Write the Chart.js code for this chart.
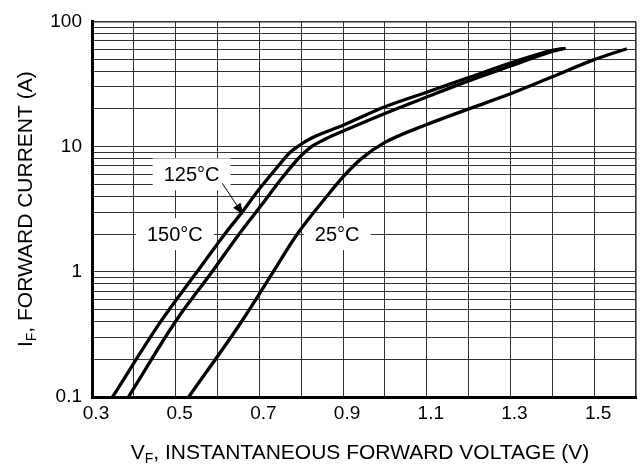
<!DOCTYPE html>
<html>
<head>
<meta charset="utf-8">
<script src="https://cdn.jsdelivr.net/npm/chart.js@4.4.1/dist/chart.umd.min.js"></script>
<style>
  html, body { margin: 0; padding: 0; background: #fff; }
</style>
</head>
<body>
<canvas id="chart" width="641" height="469"></canvas>
<script>
// 三条正向特性曲线
const vf150 = [0.349, 0.464, 0.551, 0.622, 0.658, 0.698, 0.745, 0.772, 0.797, 0.825, 0.900, 1.000, 1.100, 1.200, 1.300, 1.400, 1.432];
const if150 = [0.1, 0.40, 1.0, 2.1, 2.97, 4.5, 7.0, 8.9, 10.3, 11.7, 14.8, 20.8, 27.2, 35.6, 46.5, 58.8, 61];

const vf125 = [0.387, 0.500, 0.587, 0.650, 0.706, 0.753, 0.797, 0.8245, 0.860, 0.900, 1.000, 1.100, 1.200, 1.300, 1.400, 1.425];
const if125 = [0.1, 0.403, 1.0, 1.97, 3.45, 5.56, 8.3, 10.0, 11.6, 13.3, 18.4, 24.9, 33.5, 44.0, 57.5, 60.5];

const vf25 = [0.531, 0.658, 0.733, 0.789, 0.864, 0.900, 0.943, 1.000, 1.100, 1.200, 1.300, 1.400, 1.500, 1.578];
const if25 = [0.1, 0.403, 1.0, 1.97, 4.12, 5.73, 7.98, 10.8, 15.0, 20.0, 26.4, 36.1, 49.5, 60.5];

// 坐标轴网格与刻度标签
const xGrid = [0.3, 0.4, 0.5, 0.6, 0.7, 0.8, 0.9, 1.0, 1.1, 1.2, 1.3, 1.4, 1.5, 1.6];
const xLabels = [0.3, 0.5, 0.7, 0.9, 1.1, 1.3, 1.5];
const yGrid = [0.1, 0.2, 0.3, 0.4, 0.5, 0.6, 0.7, 0.8, 0.9,
               1, 2, 3, 4, 5, 6, 7, 8, 9,
               10, 20, 30, 40, 50, 60, 70, 80, 90, 100];
const yLabels = [0.1, 1, 10, 100];

// 温度标注（数据坐标）
const tempLabels = [
    { text: '125°C', v: 0.538, i: 6.0 },
    { text: '150°C', v: 0.498, i: 2.0 },
    { text: '25°C', v: 0.886, i: 2.0 }
];
const arrowFrom = { v: 0.611, i: 5.1 };
const arrowTo = { v: 0.658, i: 2.97 };

const FONT = '"Liberation Sans", Arial, Helvetica, sans-serif';

function toPoints(xs, ys) {
    return xs.map((v, k) => ({ x: v, y: ys[k] }));
}

function sameVal(a, b) {
    return Math.abs(a - b) < 1e-6;
}

// 带下标的文字
function drawSubText(ctx, parts, cx, cy, size) {
    let total = 0;
    parts.forEach(p => {
        ctx.font = (p.sub ? Math.round(size * 0.65) : size) + 'px ' + FONT;
        p.w = ctx.measureText(p.t).width;
        total += p.w;
    });
    let x = cx - total / 2;
    parts.forEach(p => {
        ctx.font = (p.sub ? Math.round(size * 0.65) : size) + 'px ' + FONT;
        ctx.fillText(p.t, x, p.sub ? cy + size * 0.3 : cy);
        x += p.w;
    });
}

const annotatePlugin = {
    id: 'annotate',
    // 温度标签：白底遮住网格，曲线画在上面
    beforeDatasetsDraw(chart) {
        const { ctx } = chart;
        const xs = chart.scales.x, ys = chart.scales.y;
        ctx.save();
        ctx.font = '20px ' + FONT;
        ctx.textAlign = 'center';
        ctx.textBaseline = 'middle';
        tempLabels.forEach(l => {
            const px = xs.getPixelForValue(l.v);
            const py = ys.getPixelForValue(l.i);
            const w = ctx.measureText(l.text).width;
            ctx.fillStyle = '#fff';
            ctx.fillRect(px - w / 2 - 11, py - 16, w + 22, 32);
            ctx.fillStyle = '#000';
            ctx.fillText(l.text, px, py + 1);
        });
        ctx.restore();
    },
    afterDatasetsDraw(chart) {
        const { ctx } = chart;
        const xs = chart.scales.x, ys = chart.scales.y;
        ctx.save();

        // 箭头
        const x0 = xs.getPixelForValue(arrowFrom.v), y0 = ys.getPixelForValue(arrowFrom.i);
        const x1 = xs.getPixelForValue(arrowTo.v), y1 = ys.getPixelForValue(arrowTo.i);
        const ang = Math.atan2(y1 - y0, x1 - x0);
        ctx.strokeStyle = '#000';
        ctx.lineWidth = 1;
        ctx.beginPath();
        ctx.moveTo(x0, y0);
        ctx.lineTo(x1, y1);
        ctx.stroke();
        ctx.fillStyle = '#000';
        ctx.beginPath();
        ctx.moveTo(x1 + Math.cos(ang) * 3, y1 + Math.sin(ang) * 3);
        ctx.lineTo(x1 - Math.cos(ang) * 9 + Math.sin(ang) * 4.5, y1 - Math.sin(ang) * 9 - Math.cos(ang) * 4.5);
        ctx.lineTo(x1 - Math.cos(ang) * 9 - Math.sin(ang) * 4.5, y1 - Math.sin(ang) * 9 + Math.cos(ang) * 4.5);
        ctx.closePath();
        ctx.fill();

        // 轴标题
        ctx.textAlign = 'left';
        ctx.textBaseline = 'middle';
        drawSubText(ctx, [
            { t: 'V' }, { t: 'F', sub: true }, { t: ', INSTANTANEOUS FORWARD VOLTAGE (V)' }
        ], (chart.chartArea.left + chart.chartArea.right) / 2 - 4, 453, 21);

        ctx.translate(26, (chart.chartArea.top + chart.chartArea.bottom) / 2);
        ctx.rotate(-Math.PI / 2);
        drawSubText(ctx, [
            { t: 'I' }, { t: 'F', sub: true }, { t: ', FORWARD CURRENT (A)' }
        ], 0, 0, 21);

        ctx.restore();
    }
};

const ctx = document.getElementById('chart').getContext('2d');
const lineStyle = {
    borderColor: '#000',
    borderWidth: 3.3,
    pointRadius: 0,
    fill: false,
    cubicInterpolationMode: 'monotone',
    borderCapStyle: 'butt'
};

new Chart(ctx, {
    type: 'line',
    data: {
        datasets: [
            Object.assign({ label: '150°C', data: toPoints(vf150, if150) }, lineStyle),
            Object.assign({ label: '125°C', data: toPoints(vf125, if125) }, lineStyle),
            Object.assign({ label: '25°C', data: toPoints(vf25, if25) }, lineStyle)
        ]
    },
    options: {
        responsive: false,
        animation: false,
        devicePixelRatio: 1,
        layout: { padding: { top: 12, right: 1, left: 0, bottom: 0 } },
        plugins: {
            legend: { display: false },
            tooltip: { enabled: false }
        },
        scales: {
            x: {
                type: 'linear',
                min: 0.3,
                max: 1.6,
                afterBuildTicks: s => { s.ticks = xGrid.map(v => ({ value: v })); },
                afterFit: s => { s.height = 72; },
                ticks: {
                    autoSkip: false,
                    maxRotation: 0,
                    padding: 5,
                    labelOffset: 4,
                    color: '#000',
                    font: { family: FONT, size: 19 },
                    callback: v => xLabels.some(l => sameVal(l, v)) ? v.toFixed(1) : ''
                },
                grid: {
                    color: '#333',
                    lineWidth: c => (c.tick && sameVal(c.tick.value, 1.6)) ? 1.6 : 1,
                    drawTicks: false
                },
                border: { display: true, width: 3, color: '#000' }
            },
            y: {
                type: 'logarithmic',
                min: 0.1,
                max: 100,
                afterBuildTicks: s => { s.ticks = yGrid.map(v => ({ value: v })); },
                afterFit: s => { s.width = 92; },
                ticks: {
                    autoSkip: false,
                    padding: 10,
                    color: '#000',
                    font: { family: FONT, size: 19 },
                    callback: v => yLabels.some(l => sameVal(l, v)) ? String(v) : ''
                },
                grid: {
                    color: '#333',
                    lineWidth: c => (c.tick && sameVal(c.tick.value, 100)) ? 1.6 : 1,
                    drawTicks: false
                },
                border: { display: true, width: 3, color: '#000' }
            }
        }
    },
    plugins: [annotatePlugin]
});
</script>
</body>
</html>
